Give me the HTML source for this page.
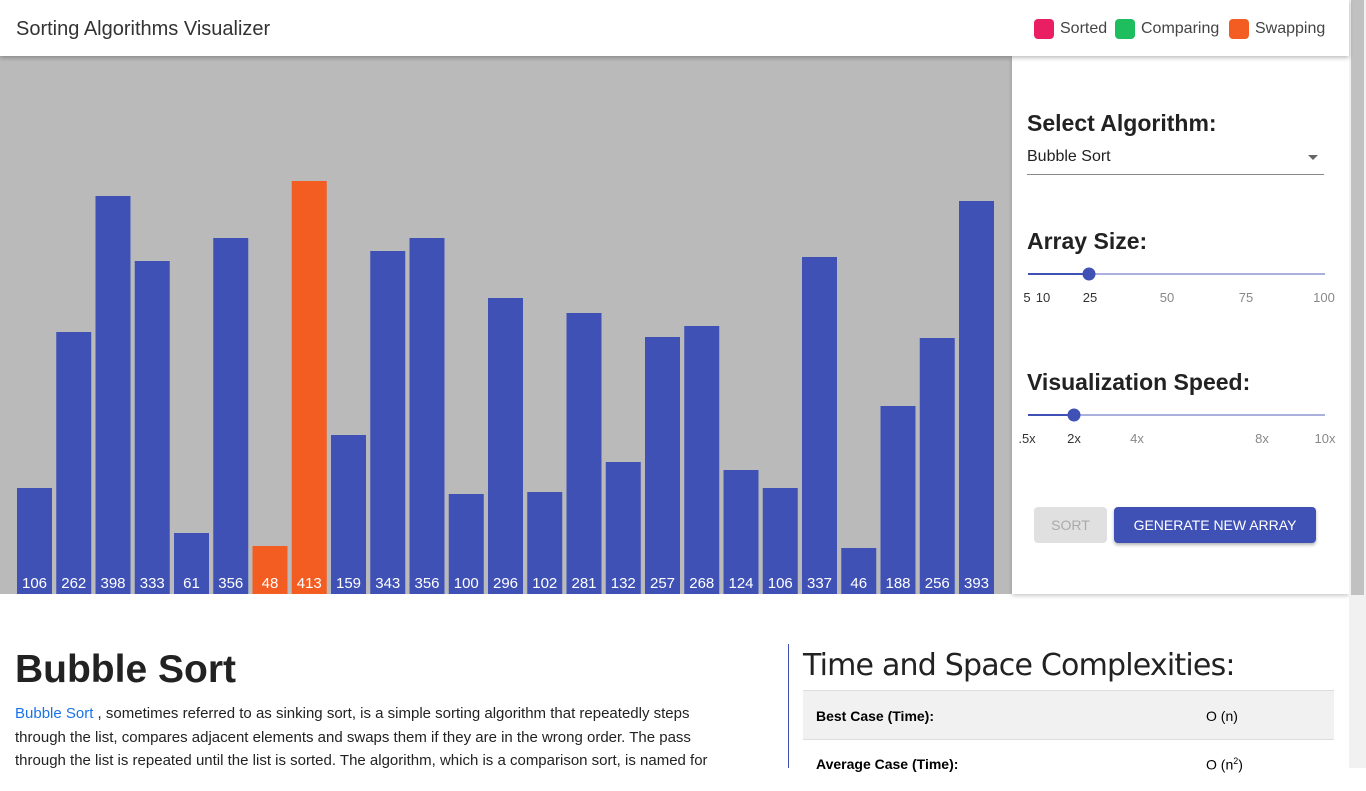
<!DOCTYPE html>
<html><head><meta charset="utf-8"><style>
*{box-sizing:border-box;margin:0;padding:0}
body{width:1366px;height:768px;overflow:hidden;background:#fff;font-family:"Liberation Sans",sans-serif;position:relative}
#hdr{position:absolute;left:0;top:0;width:1349px;height:56px;background:#fff;box-shadow:0 2px 4px rgba(0,0,0,.25);z-index:3}
#hdr .t{position:absolute;left:16px;top:18px;font-size:20px;color:#333}
.lg{position:absolute;top:19px;font-size:16px;color:#444;display:flex;align-items:center}
.lg i{display:inline-block;width:20px;height:20px;border-radius:4px;margin-right:6px}
#chart{position:absolute;left:0;top:56px;width:1012px;height:538px;background:#bababa}
#panel{position:absolute;left:1012px;top:56px;width:337px;height:538px;background:#fff;box-shadow:0 2px 4px rgba(0,0,0,.2)}
#sb{position:absolute;left:1349px;top:0;width:17px;height:768px;background:#f1f1f1}
#sb div{position:absolute;left:2px;top:0;width:13px;height:595px;background:#c1c1c1}
h3{position:absolute;left:15px;font-size:23px;font-weight:bold;color:#222;font-family:"Liberation Sans",sans-serif}
.tick{position:absolute;font-size:13px;color:#888;transform:translateX(-50%)}
.trk{position:absolute;left:16px;width:297px;height:2px;background:#aab0de}
.thumb{position:absolute;width:13px;height:13px;border-radius:50%;background:#3f51b5;transform:translate(-50%,-50%)}
</style></head><body>
<div id="hdr">
<div class="t">Sorting Algorithms Visualizer</div>
<div class="lg" style="left:1034px"><i style="background:#e91e63"></i>Sorted</div>
<div class="lg" style="left:1115px"><i style="background:#1ebd5e"></i>Comparing</div>
<div class="lg" style="left:1229px"><i style="background:#f45d22"></i>Swapping</div>
</div>
<svg id="chart" width="1012" height="538"></svg>
<div id="panel">
<h3 style="top:54px">Select Algorithm:</h3>
<div style="position:absolute;left:15px;top:92px;width:297px;height:27px;border-bottom:1px solid #888;font-size:16px;color:#222">Bubble Sort<span style="position:absolute;right:6px;top:7px;border:5px solid transparent;border-top:5px solid #666"></span></div>
<h3 style="top:172px">Array Size:</h3>
<div class="trk" style="top:217px"><div style="width:60px;height:2px;background:#3f51b5"></div></div>
<div class="thumb" style="left:77px;top:218px"></div>
<span class="tick" style="left:15px;top:234px;color:#333">5</span><span class="tick" style="left:31px;top:234px;color:#333">10</span><span class="tick" style="left:78px;top:234px;color:#333">25</span><span class="tick" style="left:155px;top:234px">50</span><span class="tick" style="left:234px;top:234px">75</span><span class="tick" style="left:312px;top:234px">100</span>
<h3 style="top:313px">Visualization Speed:</h3>
<div class="trk" style="top:358px"><div style="width:46px;height:2px;background:#3f51b5"></div></div>
<div class="thumb" style="left:62px;top:359px"></div>
<span class="tick" style="left:15px;top:375px;color:#333">.5x</span><span class="tick" style="left:62px;top:375px;color:#333">2x</span><span class="tick" style="left:125px;top:375px">4x</span><span class="tick" style="left:250px;top:375px">8x</span><span class="tick" style="left:313px;top:375px">10x</span>
<div style="position:absolute;left:22px;top:451px;width:73px;height:36px;background:#e0e0e0;color:#aaa;border-radius:4px;font-size:14px;text-align:center;line-height:36px">SORT</div>
<div style="position:absolute;left:102px;top:451px;width:202px;height:36px;background:#3f51b5;color:#fff;border-radius:4px;font-size:14px;text-align:center;line-height:36px;box-shadow:0 2px 3px rgba(0,0,0,.3)">GENERATE NEW ARRAY</div>
</div>
<div id="sb"><div></div></div>
<div style="position:absolute;left:15px;top:648px;font-size:39px;font-weight:bold;color:#222">Bubble Sort</div>
<div style="position:absolute;left:15px;top:702px;width:770px;font-size:15px;line-height:23.5px;color:#222;white-space:nowrap"><span style="color:#1a73e8">Bubble Sort</span> , sometimes referred to as sinking sort, is a simple sorting algorithm that repeatedly steps<br>through the list, compares adjacent elements and swaps them if they are in the wrong order. The pass<br>through the list is repeated until the list is sorted. The algorithm, which is a comparison sort, is named for</div>
<div style="position:absolute;left:788px;top:644px;width:1px;height:124px;background:#3f51b5"></div>
<div style="position:absolute;left:803px;top:648px;font-size:30px;color:#222;font-family:'DejaVu Sans',sans-serif;letter-spacing:-0.8px">Time and Space Complexities:</div>
<div style="position:absolute;left:803px;top:690px;width:531px;height:50px;background:#f1f1f1;border-top:1px solid #ddd;border-bottom:1px solid #ddd"><b style="position:absolute;left:13px;top:17px;font-size:14px">Best Case (Time):</b><span style="position:absolute;left:403px;top:17px;font-size:14px">O (n)</span></div>
<div style="position:absolute;left:803px;top:741px;width:531px;height:50px"><b style="position:absolute;left:13px;top:15px;font-size:14px">Average Case (Time):</b><span style="position:absolute;left:403px;top:15px;font-size:14px">O (n<sup style="font-size:9px">2</sup>)</span></div>
<script>
const values=[106,262,398,333,61,356,48,413,159,343,356,100,296,102,281,132,257,268,124,106,337,46,188,256,393];
const states=["n","n","n","n","n","n","s","s","n","n","n","n","n","n","n","n","n","n","n","n","n","n","n","n","n"];
const svg=document.getElementById('chart');
const NS='http://www.w3.org/2000/svg';
const x0=17,step=39.25,bw=35,base=538;
function xs(i){return x0+i*step}
function ys(v){return base-v*1.0}
values.forEach((v,i)=>{
const r=document.createElementNS(NS,'rect');
r.setAttribute('x',xs(i));r.setAttribute('y',ys(v));r.setAttribute('width',bw);r.setAttribute('height',base-ys(v));
r.setAttribute('fill',states[i]==='s'?'#f45d22':'#3f51b5');


svg.appendChild(r);
const t=document.createElementNS(NS,'text');
t.setAttribute('x',xs(i)+bw/2);t.setAttribute('y',base-6);t.setAttribute('text-anchor','middle');
t.setAttribute('fill','#fff');t.setAttribute('font-size','15');t.setAttribute('font-family','Liberation Sans, sans-serif');
t.textContent=v;


svg.appendChild(t);
});
</script>
</body></html>
